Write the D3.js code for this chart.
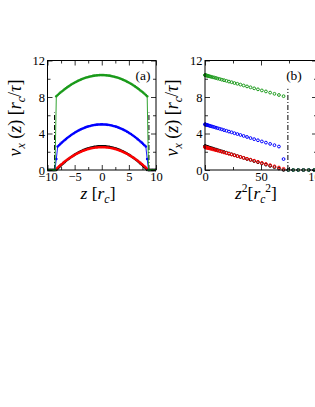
<!DOCTYPE html>
<html>
<head>
<meta charset="utf-8">
<script src="https://cdn.jsdelivr.net/npm/d3@7"></script>
<style>
  body { margin: 0; background: #fff; }
  text { font-family: "Liberation Serif", "DejaVu Serif", serif; }
</style>
</head>
<body>
<script>
const WIDTH = 315;
const HEIGHT = 407;

// bin centres of the half profile, z in r_c
const zHalf = [0.125, 0.375, 0.625, 0.875, 1.125, 1.375, 1.625, 1.875, 2.125, 2.375,
  2.625, 2.875, 3.125, 3.375, 3.625, 3.875, 4.125, 4.375, 4.625, 4.875,
  5.125, 5.375, 5.625, 5.875, 6.125, 6.375, 6.625, 6.875, 7.125, 7.375,
  7.625, 7.875, 8.125, 8.375, 8.625, 8.875, 9.125, 9.375, 9.625, 9.875];

const vRed = [2.50, 2.50, 2.49, 2.47, 2.46, 2.44, 2.41, 2.38, 2.35, 2.31,
  2.27, 2.22, 2.17, 2.12, 2.06, 1.99, 1.92, 1.85, 1.78, 1.70,
  1.61, 1.52, 1.43, 1.33, 1.23, 1.13, 1.02, 0.90, 0.78, 0.66,
  0.53, 0.40, 0.27, 0.13, 0.00, 0, 0, 0, 0, 0];
const vBlack = [2.60, 2.59, 2.59, 2.57, 2.55, 2.53, 2.50, 2.47, 2.43, 2.39,
  2.35, 2.29, 2.24, 2.18, 2.11, 2.04, 1.97, 1.89, 1.81, 1.72,
  1.63, 1.53, 1.43, 1.32, 1.21, 1.10, 0.98, 0.85, 0.72, 0.59,
  0.45, 0.31, 0.16, 0.00, 0, 0, 0, 0, 0, 0];
const vBlue = [5.00, 4.99, 4.99, 4.97, 4.95, 4.93, 4.90, 4.87, 4.83, 4.79,
  4.75, 4.70, 4.64, 4.58, 4.52, 4.45, 4.37, 4.30, 4.21, 4.13,
  4.03, 3.94, 3.84, 3.73, 3.62, 3.50, 3.38, 3.26, 3.13, 3.00,
  2.86, 2.72, 2.57, 1.20, 0, 0, 0, 0, 0, 0];
const vGreen = [10.40, 10.40, 10.39, 10.37, 10.36, 10.34, 10.31, 10.28, 10.25, 10.21,
  10.17, 10.13, 10.08, 10.02, 9.97, 9.90, 9.84, 9.77, 9.69, 9.62,
  9.53, 9.45, 9.36, 9.26, 9.16, 9.06, 8.95, 8.84, 8.72, 8.61,
  8.48, 8.35, 8.22, 8.09, 0, 0, 0, 0, 0, 0];

// drawing order: black underneath, then red, blue, green
const seriesNames = ['black', 'red', 'blue', 'green'];
const seriesColors = ['#000000', '#ff0000', '#0000ff', '#1a9a1a'];
const seriesValues = [vBlack, vRed, vBlue, vGreen];

// wall markers (dash-dot)
const wallZ = 8.7;
const wallTopA = 6.3;
const wallZ2 = 74;
const wallTopB = 8.9;

const yTicks = [0, 4, 8, 12];
const yMinor = [2, 6, 10];
const xTicksA = [-10, -5, 0, 5, 10];
const xMinorA = [-7.5, -2.5, 2.5, 7.5];
const xTicksB = [0, 50, 100];
const xMinorB = [25, 75];

const plotTop = 60.5, plotBottom = 170;

const svg = d3.select('body').append('svg')
  .attr('width', WIDTH)
  .attr('height', HEIGHT)
  .attr('viewBox', [0, 0, WIDTH, HEIGHT]);

svg.append('rect').attr('width', WIDTH).attr('height', HEIGHT).attr('fill', '#fff');

const y = d3.scaleLinear().domain([0, 12]).range([plotBottom, plotTop]);
const xA = d3.scaleLinear().domain([-10, 10]).range([47.5, 156]);
const xB = d3.scaleLinear().domain([0, 100]).range([205, 317]);

function frame(x, xTicks, xMinor, fmt) {
  const g = svg.append('g');
  const [x0, x1] = x.range();

  const axes = [
    [d3.axisBottom(x).tickValues(xTicks).tickSize(-5).tickPadding(2.5).tickFormat(fmt), `translate(0,${plotBottom})`],
    [d3.axisBottom(x).tickValues(xMinor).tickSize(-3).tickFormat(''), `translate(0,${plotBottom})`],
    [d3.axisTop(x).tickValues(xTicks).tickSize(-5).tickFormat(''), `translate(0,${plotTop})`],
    [d3.axisTop(x).tickValues(xMinor).tickSize(-3).tickFormat(''), `translate(0,${plotTop})`],
    [d3.axisLeft(y).tickValues(yTicks).tickSize(-5).tickPadding(2.5).tickFormat(d3.format('d')), `translate(${x0},0)`],
    [d3.axisLeft(y).tickValues(yMinor).tickSize(-3).tickFormat(''), `translate(${x0},0)`],
    [d3.axisRight(y).tickValues(yTicks).tickSize(-5).tickFormat(''), `translate(${x1},0)`],
    [d3.axisRight(y).tickValues(yMinor).tickSize(-3).tickFormat(''), `translate(${x1},0)`],
  ];
  axes.forEach(([axis, tr]) => {
    const a = g.append('g').attr('transform', tr).call(axis);
    a.select('.domain').remove();
    a.selectAll('line').attr('stroke', '#000').attr('stroke-width', 0.8);
    a.selectAll('text')
      .attr('font-family', '"Liberation Serif", serif')
      .attr('font-size', 12.5)
      .attr('fill', '#000');
  });

  g.append('rect')
    .attr('x', x0).attr('y', plotTop)
    .attr('width', x1 - x0).attr('height', plotBottom - plotTop)
    .attr('fill', 'none').attr('stroke', '#000').attr('stroke-width', 1);
  return g;
}

// ---- panel (a): v_x vs z
const fullZ = zHalf.slice().reverse().map(z => -z).concat(zHalf);
svg.append('clipPath').attr('id', 'clipA')
  .append('rect').attr('x', xA(-10)).attr('y', plotTop - 3)
  .attr('width', xA(10) - xA(-10)).attr('height', plotBottom - plotTop + 6);

const gA = svg.append('g').attr('clip-path', 'url(#clipA)');

[-wallZ, wallZ].forEach(z => {
  gA.append('line')
    .attr('x1', xA(z)).attr('x2', xA(z))
    .attr('y1', y(0)).attr('y2', y(wallTopA))
    .attr('stroke', '#000').attr('stroke-width', 1)
    .attr('stroke-dasharray', '5,2,1,2');
});

seriesValues.forEach((vals, i) => {
  const full = vals.slice().reverse().concat(vals);
  const pts = fullZ.map((z, k) => [z, full[k]]);
  gA.append('path')
    .datum(pts)
    .attr('fill', 'none')
    .attr('stroke', seriesColors[i])
    .attr('stroke-width', 0.9)
    .attr('d', d3.line().x(d => xA(d[0])).y(d => y(d[1])));
  gA.append('g').selectAll('circle')
    .data(pts)
    .join('circle')
      .attr('cx', d => xA(d[0]))
      .attr('cy', d => y(d[1]))
      .attr('r', 1.3)
      .attr('fill', seriesColors[i]);
});

frame(xA, xTicksA, xMinorA, d3.format('d'));

svg.append('text')
  .attr('x', 143).attr('y', 79.5)
  .attr('text-anchor', 'middle')
  .attr('font-size', 13.5)
  .text('(a)');

// ---- panel (b): v_x vs z^2
const gB = svg.append('g');
seriesValues.forEach((vals, i) => {
  gB.append('g').selectAll('circle')
    .data(zHalf.map((z, k) => [z * z, vals[k]]))
    .join('circle')
      .attr('cx', d => xB(d[0]))
      .attr('cy', d => y(d[1]))
      .attr('r', 1.4)
      .attr('fill', 'none')
      .attr('stroke', seriesColors[i])
      .attr('stroke-width', 1);
});

gB.append('line')
  .attr('x1', xB(wallZ2)).attr('x2', xB(wallZ2))
  .attr('y1', y(0)).attr('y2', y(wallTopB))
  .attr('stroke', '#000').attr('stroke-width', 1)
  .attr('stroke-dasharray', '5,2,1,2');

frame(xB, xTicksB, xMinorB, d3.format('d'));

svg.append('text')
  .attr('x', 294).attr('y', 79.5)
  .attr('text-anchor', 'middle')
  .attr('font-size', 13.5)
  .text('(b)');

// ---- axis titles
function yTitle(x, cy) {
  const t = svg.append('text')
    .attr('transform', `translate(${x},${cy}) rotate(-90)`)
    .attr('text-anchor', 'middle')
    .attr('font-size', 18);
  t.append('tspan').attr('font-style', 'italic').text('v');
  t.append('tspan').attr('font-style', 'italic').attr('font-size', 12).attr('dy', 4).text('x');
  t.append('tspan').attr('dy', -4).text(' (');
  t.append('tspan').attr('font-style', 'italic').text('z');
  t.append('tspan').text(')  [');
  t.append('tspan').attr('font-style', 'italic').text('r');
  t.append('tspan').attr('font-style', 'italic').attr('font-size', 12).attr('dy', 4).text('c');
  t.append('tspan').attr('dy', -4).text('/');
  t.append('tspan').attr('font-style', 'italic').text('τ');
  t.append('tspan').text(']');
}
yTitle(21, 118);
yTitle(178, 118);

const tA = svg.append('text')
  .attr('x', 98).attr('y', 198.5)
  .attr('text-anchor', 'middle')
  .attr('font-size', 17.5);
tA.append('tspan').attr('font-style', 'italic').text('z');
tA.append('tspan').text(' [');
tA.append('tspan').attr('font-style', 'italic').text('r');
tA.append('tspan').attr('font-style', 'italic').attr('font-size', 12).attr('dy', 4).text('c');
tA.append('tspan').attr('dy', -4).text(']');

const tB = svg.append('text')
  .attr('x', 256).attr('y', 199)
  .attr('text-anchor', 'middle')
  .attr('font-size', 17.5);
tB.append('tspan').attr('font-style', 'italic').text('z');
tB.append('tspan').attr('font-size', 11.5).attr('dy', -7).text('2');
tB.append('tspan').attr('dy', 7).text('[');
tB.append('tspan').attr('font-style', 'italic').text('r');
tB.append('tspan').attr('font-style', 'italic').attr('font-size', 11.5).attr('dy', 4).text('c');
tB.append('tspan').attr('font-size', 11.5).attr('dy', -11).text('2');
tB.append('tspan').attr('dy', 7).text(']');
</script>
</body>
</html>
